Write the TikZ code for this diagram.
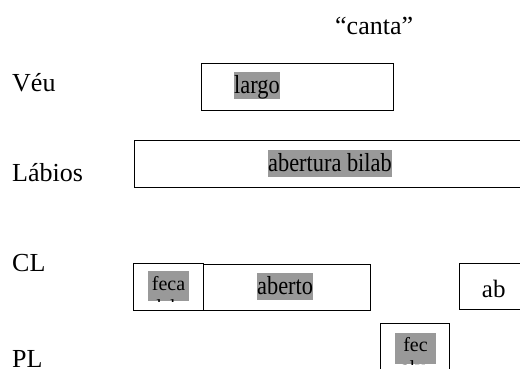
\documentclass[tikz,border=0pt]{standalone}
\usepackage{fontspec}
\usepackage{graphicx}
\setmainfont{Liberation Serif}
\definecolor{hl}{HTML}{999999}
% condensed type used inside the gesture boxes
\newcommand\narrowtext[1]{\scalebox{0.86}[1]{#1}}
\begin{document}
\begin{tikzpicture}[x=1pt,y=-1pt,
  tier/.style={font=\fontsize{26}{30}\selectfont, anchor=base west, inner sep=0pt},
  frame/.style={draw=black, line width=1pt, inner sep=0pt, anchor=north west},
  hilite/.style={fill=hl, inner sep=0pt, text height=21.5pt, text depth=5.5pt,
    font=\fontsize{26}{30}\selectfont, anchor=base west},
  shade/.style={fill=hl, draw=none, inner sep=0pt, anchor=north west},
  small/.style={font=\fontsize{20}{23}\selectfont, anchor=base, inner sep=0pt}
]
\useasboundingbox (0,0) rectangle (520,369);
\clip (0,0) rectangle (520,369);

% tier names
\node[tier] (title) at (335,35) {“canta”};
\node[tier] (veu) at (12,92) {Véu};
\node[tier] (labios) at (12,181) {Lábios};
\node[tier] (cl) at (12,271) {CL};
\node[tier] (pl) at (12,367) {PL};

% gesture boxes
\node[frame, minimum width=192pt, minimum height=47pt] (velum) at (201,63) {};
\node[frame, minimum width=396pt, minimum height=47pt] (lips) at (134,140) {};
\node[frame, minimum width=167pt, minimum height=46pt] (aberto) at (203,263.5) {};
\node[frame, minimum width=70pt, minimum height=47pt] (feca) at (133,263) {};
\node[frame, minimum width=71pt, minimum height=46pt] (ab) at (459,263) {};
\node[frame, minimum width=69pt, minimum height=60pt] (fec) at (380,323) {};

% highlighted labels
\node[hilite] (largo) at (234,93.7) {\narrowtext{largo}};
\node[hilite] (bilab) at (268,171.5) {\narrowtext{abertura bilab}};
\node[hilite] (abertotxt) at (257,294) {\narrowtext{aberto}};
\node[font=\fontsize{25}{29}\selectfont, anchor=base west, inner sep=0pt] (abtxt) at (481.7,297.3) {ab};

% two-line labels cut off by their frames
\node[shade, minimum width=41pt, minimum height=30pt] (fecashade) at (148,271) {};
\node[small] (fecatxt) at (168.5,290) {feca};
\begin{scope}
  \clip (148,271) rectangle (189,301);
  \node[small] (fecatwo) at (168.5,313) {lab};
\end{scope}

\node[shade, minimum width=41pt, minimum height=31pt] (fecshade) at (395,333) {};
\node[small] (fectxt) at (415.5,351.7) {fec};
\begin{scope}
  \clip (395,333) rectangle (436,364);
  \node[small] (fectwo) at (413,374.7) {alv};
\end{scope}
\end{tikzpicture}
\end{document}
